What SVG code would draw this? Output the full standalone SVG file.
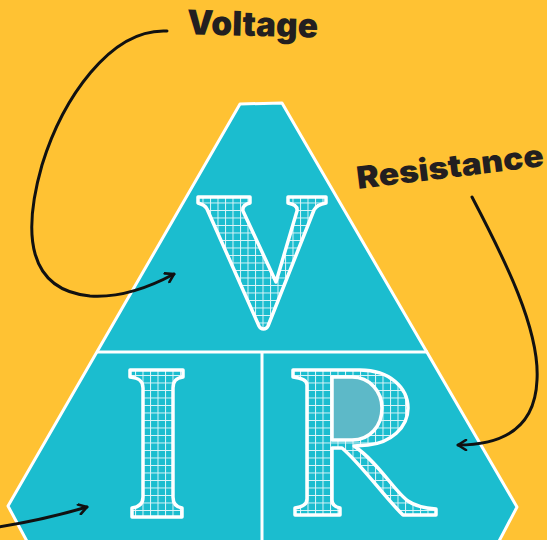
<svg xmlns="http://www.w3.org/2000/svg" width="547" height="540" viewBox="0 0 547 540">
  <defs>
    <pattern id="grid" x="0" y="0" width="7.5" height="7.5" patternUnits="userSpaceOnUse">
      <rect width="7.5" height="7.5" fill="#1BBDCF"/>
      <path d="M0,0.5 H7.5 M0.5,0 V7.5" stroke="#FFFFFF" stroke-opacity="0.85" stroke-width="1" fill="none"/>
    </pattern>
    <marker id="chev" viewBox="0 0 12 12" refX="10" refY="6" markerWidth="12" markerHeight="12" markerUnits="userSpaceOnUse" orient="auto">
      <path d="M2,1 L10,6 L2,11" fill="none" stroke="#111111" stroke-width="2.6" stroke-linecap="round" stroke-linejoin="round"/>
    </marker>
    <style>
      .tri { fill: #1BBDCF; stroke: #FFFFFF; stroke-width: 3; stroke-linejoin: round; }
      .div { stroke: #FFFFFF; stroke-width: 3; fill: none; }
      .letter { fill: url(#grid); stroke: #FFFFFF; stroke-width: 3.5; stroke-linejoin: round; }
      .counter { fill: #5DB9C8; stroke: #FFFFFF; stroke-width: 3.5; stroke-linejoin: round; }
      .label { font-family: Inter, "Liberation Sans", Arial, sans-serif; font-weight: 900; fill: #231F20; }
      .arrow { fill: none; stroke: #111111; stroke-width: 3; stroke-linecap: round; }
    </style>
  </defs>
  <rect width="547" height="540" fill="#FFC233"/>

  <g id="triangle">
    <path class="tri" d="M240,104 L282,103 L517,507 L497,545 L29,545 L8,506 Z"/>
    <path class="div" d="M97,352 H428 M262,352 V545"/>
  </g>

  <g id="letter-V">
    <path class="letter" d="M198,197 L250,197 L250,203 C246,204 242,206 243,211 L276,282 L297,211 C298,206 293,204 288,203 L288,197 L326,197 L326,203 C320,204 316,206 314,210 L268,326 C266,330 261,330 259,326 L207,209 C205,205 202,204 198,203 Z"/>
  </g>

  <g id="letter-I">
    <path class="letter" d="M130,370 L183,370 L183,377 C176,378 173,381 173,388 L173,497 C173,504 176,507 182,508 L182,517 L132,517 L132,508 C139,507 143,504 143,497 L143,388 C143,381 139,378 130,377 Z"/>
  </g>

  <g id="letter-R">
    <path class="letter" d="M293,370 L360,370 C390,370 408,388 408,408 C408,428 390,443 368,445 L354,446 C378,462 395,492 408,501 C415,506 422,508 436,509 L436,515 L403,515 C385,498 362,465 342,448 L332,448 L332,500 C332,505 335,507 340,508 L340,515 L295,515 L295,508 C302,507 307,504 307,499 L307,385 C307,380 302,378 293,377 Z"/>
    <path class="counter" d="M332,377 L352,377 C370,377 382,392 382,408 C382,426 370,440 352,440 L332,440 Z"/>
  </g>

  <g id="label-voltage">
    <text class="label" x="187" y="36" font-size="34" textLength="131" lengthAdjust="spacingAndGlyphs" transform="rotate(1.5 252 25)">Voltage</text>
  </g>

  <g id="label-resistance">
    <text class="label" x="358" y="189" font-size="31" textLength="188" lengthAdjust="spacingAndGlyphs" transform="rotate(-7 358 189)">Resistance</text>
  </g>

  <g id="connectors">
    <path class="arrow" marker-end="url(#chev)" d="M167,31 C110,28 62,100 42,165 C22,235 28,290 90,296 C120,298 150,287 174,274"/>
    <path class="arrow" marker-end="url(#chev)" d="M472,197 C505,260 540,330 537,380 C535,430 500,445 458,445"/>
    <path class="arrow" marker-end="url(#chev)" d="M-2,527 C30,522 60,515 87,507"/>
  </g>
</svg>
